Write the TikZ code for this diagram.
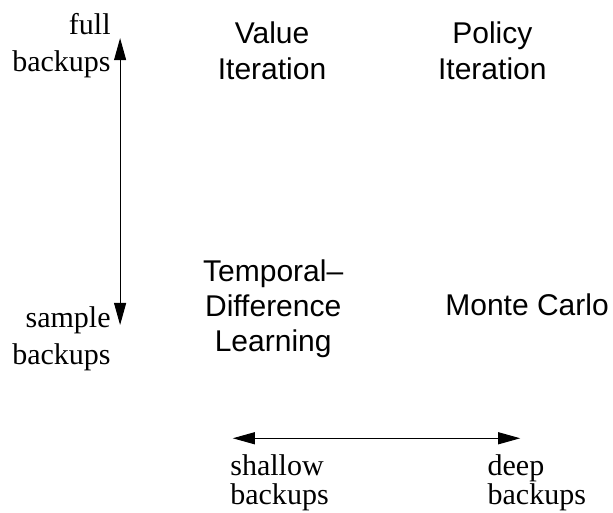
\documentclass[tikz,border=0pt]{standalone}
\usepackage{fontspec}
\setmainfont{Liberation Serif}
\setsansfont{Liberation Sans}
\usetikzlibrary{arrows.meta}

\begin{document}
\begin{tikzpicture}[
    axislabel/.style={inner sep=0pt,font=\fontsize{15}{18.5}\selectfont},
    method/.style={inner sep=0pt,align=center,font=\sffamily\fontsize{15}{18}\selectfont},
    axisarrow/.style={line width=0.5pt,{Triangle[length=11pt,width=6pt]}-{Triangle[length=11pt,width=6pt]}}
  ]
  \useasboundingbox (0,0) rectangle (10.77,9.0);

  % vertical axis: full vs. sample backups
  \coordinate (top) at (2.11,8.33);
  \coordinate (bottom) at (2.11,3.29);
  \draw[axisarrow] (bottom) -- (top);
  \node[axislabel,align=right,anchor=east] (full) at (1.95,8.19) {full\\backups};
  \node[axislabel,align=right,anchor=east] (sample) at (1.95,3.04) {sample\\backups};

  % horizontal axis: shallow vs. deep backups
  \coordinate (left) at (4.09,1.30);
  \coordinate (right) at (9.14,1.30);
  \draw[axisarrow] (left) -- (right);
  \node[axislabel,align=left,anchor=west] (shallow) at (4.04,0.52) {shallow\\[-4pt]backups};
  \node[axislabel,align=left,anchor=west] (deep) at (8.56,0.52) {deep\\[-4pt]backups};

  % methods
  \node[method] (vi) at (4.78,8.10) {Value\\Iteration};
  \node[method] (pi) at (8.65,8.10) {Policy\\Iteration};
  \node[method,font=\sffamily\fontsize{15}{17.5}\selectfont] (td) at (4.80,3.57) {Temporal–\\Difference\\Learning};
  \node[method] (mc) at (9.26,3.64) {Monte Carlo};
\end{tikzpicture}
\end{document}
